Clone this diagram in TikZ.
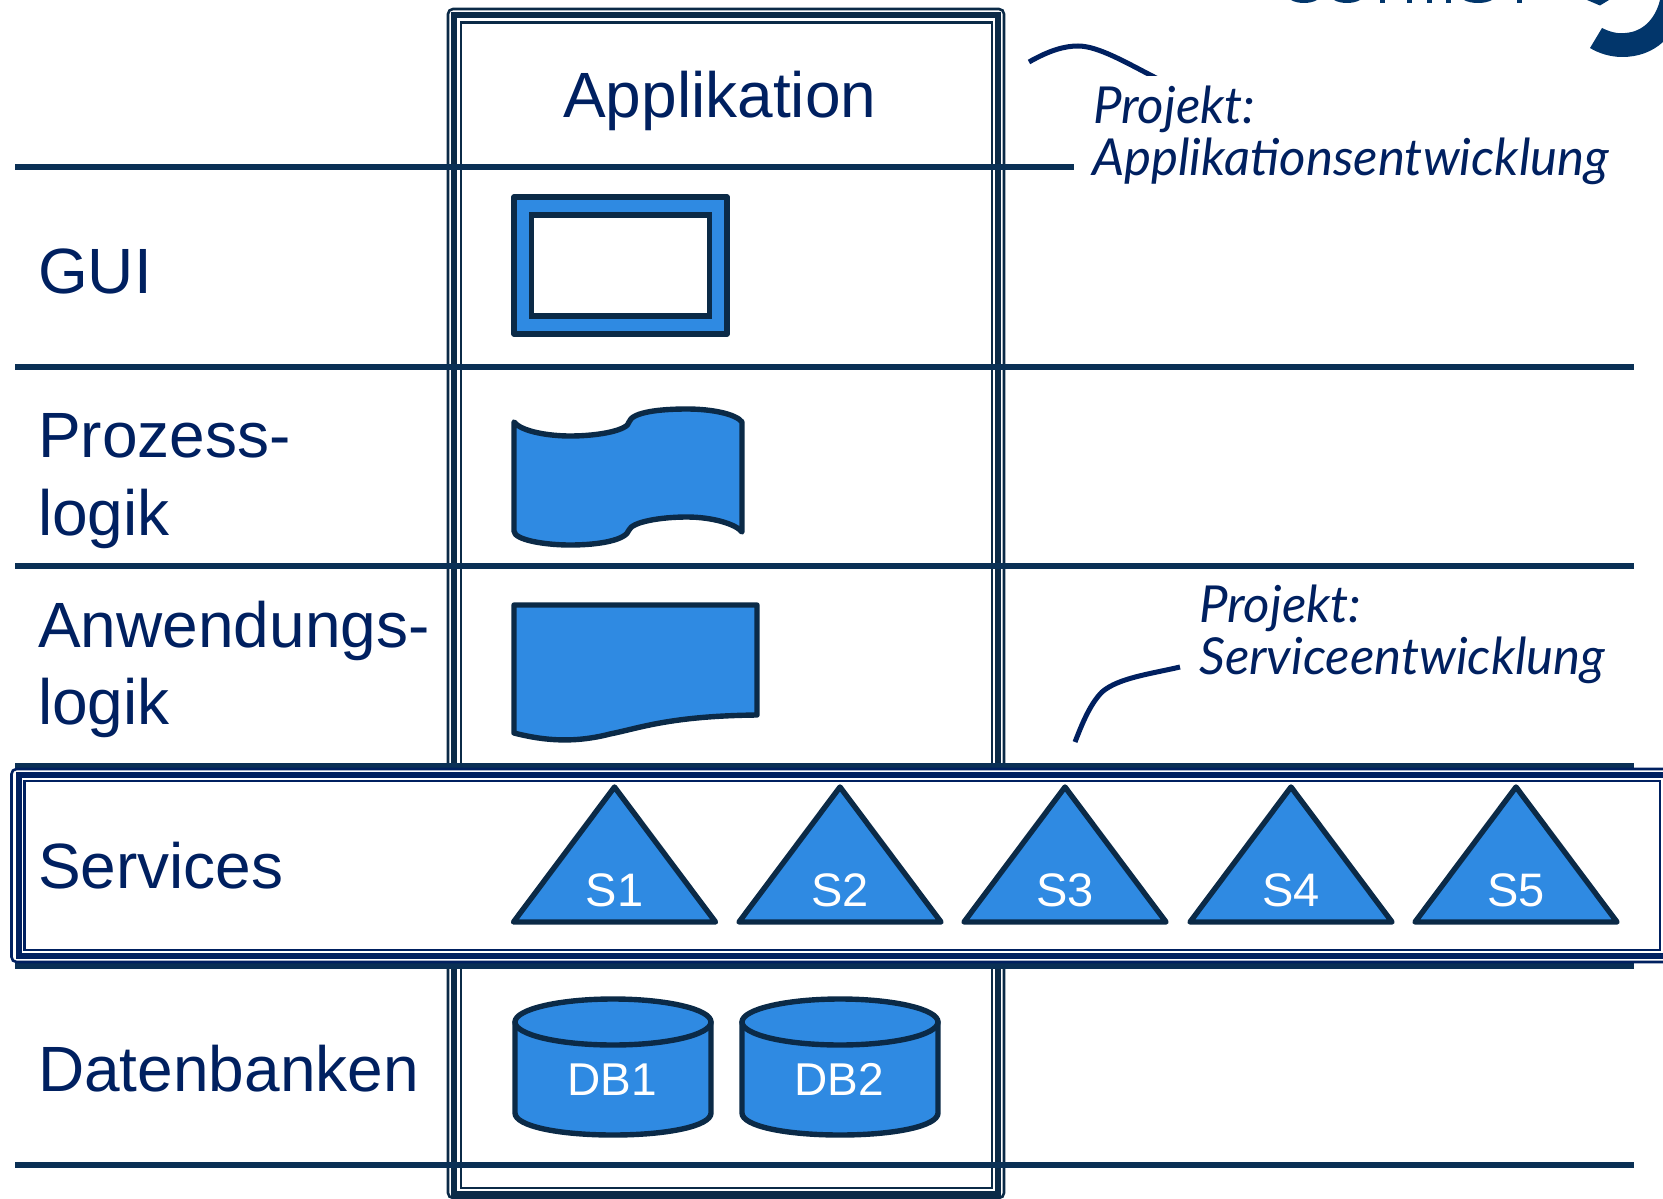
\documentclass[tikz,border=0pt]{standalone}
\usepackage{fontspec}
\setmainfont{Liberation Sans}
\newfontfamily\handfont{Lato Italic}
\definecolor{txtblue}{HTML}{002060}
\definecolor{darkline}{HTML}{0B2A47}
\definecolor{rowline}{HTML}{0A3055}
\definecolor{shapeblue}{HTML}{2F8AE2}
\definecolor{logoblue}{HTML}{02366B}
\tikzset{
  rowlabel/.style={anchor=base west,inner sep=0pt,text=txtblue,font=\fontsize{64}{64}\selectfont},
  handlabel/.style={anchor=base west,inner sep=0pt,text=txtblue,font=\handfont\fontsize{51}{51}\selectfont},
  rowrule/.style={draw=rowline,line width=6.4pt},
  thinframe/.style={line width=2.6pt,rounded corners=5pt},
  thickframe/.style={line width=6pt},
  symbol/.style={draw=darkline,fill=shapeblue,line width=5.4pt,line join=round},
  symlabel/.style={anchor=base,inner sep=0pt,text=white,font=\fontsize{47}{47}\selectfont},
  callout/.style={draw=txtblue,line width=5pt}
}
\begin{document}
\begin{tikzpicture}[x=1pt,y=-1pt]
\useasboundingbox (0,0) rectangle (1663,1199);
\clip (0,0) rectangle (1663,1199);
% Application frame
\draw[darkline,thinframe] (448,9) rectangle (1004,1198);
\draw[darkline,thickframe] (454,15.5) rectangle (998,1193.5);
\draw[darkline,line width=2.6pt] (461,22.5) rectangle (992,1188);
% row rules
\coordinate (r0a) at (15,167); \coordinate (r0b) at (1074,167);
\coordinate (r1a) at (15,367); \coordinate (r1b) at (1634,367);
\coordinate (r2a) at (15,566); \coordinate (r2b) at (1634,566);
\coordinate (r3a) at (15,766); \coordinate (r3b) at (1634,766);
\coordinate (r4a) at (15,966); \coordinate (r4b) at (1634,966);
\coordinate (r5a) at (15,1165); \coordinate (r5b) at (1634,1165);
\draw[rowrule] (r0a) -- (r0b);
\draw[rowrule] (r1a) -- (r1b);
\draw[rowrule] (r2a) -- (r2b);
\draw[rowrule] (r3a) -- (r3b);
\draw[rowrule] (r4a) -- (r4b);
\draw[rowrule] (r5a) -- (r5b);
% Services frame
\draw[txtblue,thinframe,fill=white] (11.5,769) rectangle (1700,962);
\draw[txtblue,thickframe] (18.5,775) rectangle (1700,956);
\draw[txtblue,line width=2.6pt] (24.5,781) rectangle (1660,950);
% labels
\node[rowlabel] (app) at (563,117.5) {Applikation};
\node[rowlabel] (gui) at (38,293) {GUI};
\node[rowlabel] (proz1) at (38,457) {Prozess-};
\node[rowlabel] (proz2) at (38,535) {logik};
\node[rowlabel] (anw1) at (38,647) {Anwendungs-};
\node[rowlabel] (anw2) at (38,724) {logik};
\node[rowlabel] (serv) at (38,888) {Services};
\node[rowlabel] (dat) at (38,1091.5) {Datenbanken};
% GUI symbol
\path[symbol] (514,197) rectangle (727,334);
\draw[darkline,fill=white,line width=5.4pt] (531.5,215) rectangle (709.5,316);
% process symbol (wave)
\path[symbol] (514,422)
  .. controls (522,432) and (550,436) .. (570,436)
  .. controls (600,436) and (628,430) .. (629,422)
  .. controls (632,412) and (660,409) .. (687,409)
  .. controls (712,409) and (736,414) .. (742,422)
  -- (742,532)
  .. controls (736,524) and (712,517) .. (687,517)
  .. controls (660,517) and (632,522) .. (629,530)
  .. controls (626,540) and (600,545) .. (570,545)
  .. controls (545,545) and (514,540) .. (514,531)
  -- cycle;
% document symbol
\path[symbol] (514,605) -- (757,605) -- (757,715)
  .. controls (670,716) and (640,728) .. (610,734)
  .. controls (575,743) and (545,741) .. (514,733) -- cycle;
% service triangles
\foreach \cx/\nm in {614.5/1,840/2,1065/3,1291/4,1516/5}{
  \path[symbol] (\cx,787) -- ({\cx+101},922) -- ({\cx-101},922) -- cycle;
  \node[symlabel] (s\nm) at (\cx,906) {S\nm};
}
% databases
\foreach \cx/\nm in {613/1,840/2}{
  \path[symbol] ({\cx-98},1022) -- ({\cx-98},1113)
     .. controls ({\cx-98},1126) and ({\cx-55},1135) .. (\cx,1135)
     .. controls ({\cx+55},1135) and ({\cx+98},1126) .. ({\cx+98},1113)
     -- ({\cx+98},1022) -- cycle;
  \path[symbol] (\cx,1022) ellipse [x radius=98,y radius=23];
  \node[symlabel,font=\fontsize{46}{46}\selectfont] (db\nm) at (\cx-1,1095) {DB\nm};
}
% callouts
\node[handlabel] (pa1) at (1093,123) {Projekt:};
\node[handlabel] (pa2) at (1092,175) {Applikationsentwicklung};
\node[handlabel] (ps1) at (1199,622) {Projekt:};
\node[handlabel] (ps2) at (1199,674) {Serviceentwicklung};
\coordinate (ca1) at (1029,62);
\coordinate (ca2) at (1158,79);
\coordinate (cs1) at (1180,667);
\coordinate (cs2) at (1075,742);
\begin{scope}
\clip (1000,0) rectangle (1200,76);
\draw[callout] (ca1) .. controls (1050,50) and (1065,46) .. (1078,46)
   .. controls (1098,46) and (1125,62) .. (ca2);
\end{scope}
\draw[callout] (cs1) .. controls (1150,674) and (1118,678) .. (1102,692)
   .. controls (1090,704) and (1082,724) .. (cs2);
% cropped logo and lettering fragments, top right
\fill[logoblue] (1602,28) .. controls (1610,32) and (1618,34) .. (1625,33)
   .. controls (1642,32) and (1655,20) .. (1660,0) -- (1663,0) -- (1663,42)
   .. controls (1652,52) and (1638,57) .. (1622,57)
   .. controls (1610,57) and (1598,53) .. (1590,48) -- cycle;
\fill[logoblue] (1587,0) -- (1600,5.5) -- (1609,0) -- cycle;
\fill[logoblue] (1291,0) .. controls (1298,4) and (1310,4) .. (1317,0) -- cycle;
\fill[logoblue] (1334,0) .. controls (1341,4) and (1353,4) .. (1360,0) -- cycle;
\fill[logoblue] (1380,0) rectangle (1385,3.5);
\fill[logoblue] (1407,0) rectangle (1412,3.5);
\fill[logoblue] (1427,0) rectangle (1432,3.5);
\fill[logoblue] (1446,0) rectangle (1451,3.5);
\fill[logoblue] (1464,0) .. controls (1471,4) and (1485,4) .. (1492,0) -- cycle;
\fill[logoblue] (1517,0) rectangle (1522,3.5);
\end{tikzpicture}
\end{document}
